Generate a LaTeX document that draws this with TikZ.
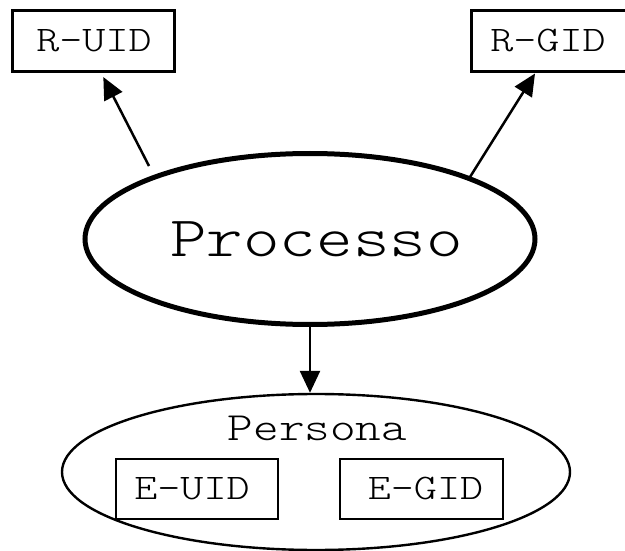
\documentclass[tikz,border=0pt]{standalone}
\usepackage{fontspec}
\newfontfamily\cour{Latin Modern Mono Light}[FakeStretch=1.22]
\usetikzlibrary{shapes.geometric,arrows.meta}
\begin{document}
\begin{tikzpicture}[x=1pt,y=-1pt,
  box/.style={draw,line width=3pt,rectangle,inner sep=0pt,minimum width=162pt,minimum height=61pt},
  lbl/.style={inner sep=0pt,font=\cour\fontsize{36}{39}\selectfont},
  arr/.style={-{Triangle[length=22pt,width=20pt]},line width=2.5pt}]
\useasboundingbox (0,0) rectangle (625,551);
\node[box] (ruid) at (93.5,41.5) {};
\node[lbl] (ruidt) at (94,41) {R-UID};
\node[box,minimum width=157pt] (rgid) at (549.5,41.5) {};
\node[lbl] (rgidt) at (548,41) {R-GID};
\node[draw,ellipse,line width=5pt,inner sep=0pt,minimum width=450pt,minimum height=171pt] (proc) at (310,239) {};
\node[inner sep=0pt,font=\cour\fontsize{57}{61}\selectfont] (proct) at (316.5,239) {Processo};
\node[draw,ellipse,line width=2.4pt,inner sep=0pt,minimum width=508pt,minimum height=156pt] (pers) at (316,472) {};
\node[inner sep=0pt,font=\cour\fontsize{40}{43}\selectfont] (perst) at (317.5,428) {Persona};
\node[box,line width=2.8pt,minimum height=60pt] (euid) at (197,489) {};
\node[lbl] (euidt) at (192,489) {E-UID};
\node[box,line width=2.8pt,minimum height=60pt,minimum width=163pt] (egid) at (421.5,489) {};
\node[lbl] (egidt) at (425.5,489) {E-GID};
\coordinate (s1) at (149,166);
\coordinate (s2) at (470,177);
\draw[arr,shorten >=4pt] (s1) -- ([xshift=8pt]ruid.south);
\draw[arr] (s2) -- ([xshift=-14.5pt]rgid.south);
\draw[arr] (proc.south) -- (pers.north -| proc.south);
\end{tikzpicture}
\end{document}
